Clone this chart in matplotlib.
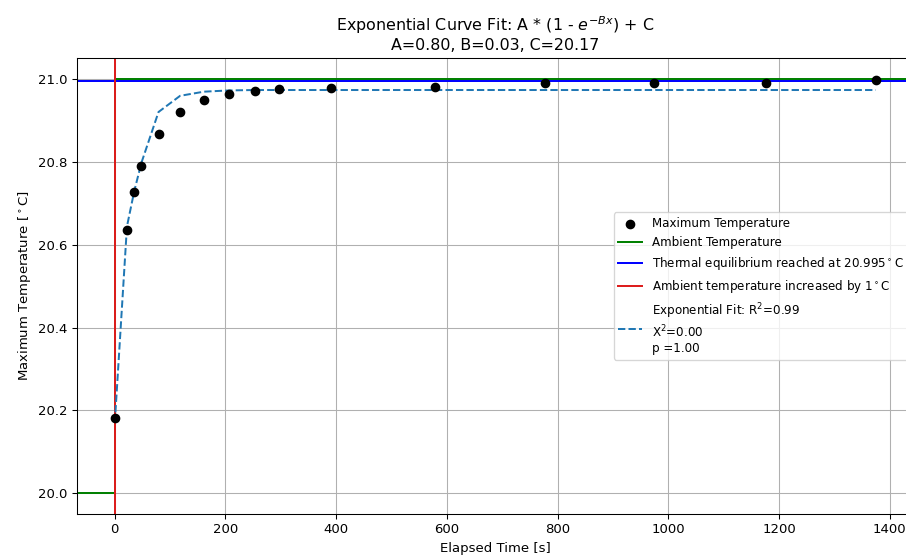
import matplotlib
matplotlib.use('Agg')
import matplotlib.pyplot as plt

# Datos
tiempo = [0, 22, 35, 48, 79, 118, 161, 206, 253, 297, 391, 579, 777, 975, 1177, 1375]
temp_max = [20.181, 20.636, 20.728, 20.790, 20.866, 20.919, 20.949, 20.964,
            20.970, 20.975, 20.979, 20.981, 20.990, 20.991, 20.991, 20.996]
temp_ajuste = [20.17, 20.644, 20.728, 20.797, 20.920, 20.959, 20.969, 20.972,
               20.973, 20.973, 20.973, 20.973, 20.973, 20.973, 20.973, 20.973]

T_AMB_INI = 20.0
T_AMB_FIN = 21.0
T_EQUILIBRIO = 20.995
A, B, C = 0.80, 0.03, 20.17
R2, CHI2, P = 0.99, 0.00, 1.00

DPI = 95
fig = plt.figure(figsize=(906 / DPI, 556 / DPI), dpi=DPI)
ax = fig.add_axes([0.0847, 0.0755, 0.924, 0.820])

ax.scatter(tiempo, temp_max, color='black', s=40, zorder=3, label='Maximum Temperature')
ax.plot(tiempo, temp_ajuste, alpha=0)  # solo para el autoscale
xl = ax.get_xlim()
ax.lines[-1].remove()

ax.plot([xl[0], 0, 0, xl[1]], [T_AMB_INI, T_AMB_INI, T_AMB_FIN, T_AMB_FIN],
        color='green', label='Ambient Temperature')
ax.axhline(T_EQUILIBRIO, color='blue',
           label=f'Thermal equilibrium reached at {T_EQUILIBRIO}$^\\circ$C')
ax.axvline(0, color='#dd1c1c', label='Ambient temperature increased by 1$^\\circ$C')
ax.plot(tiempo, temp_ajuste, '--', color='tab:blue',
        label=f'Exponential Fit: R$^2$={R2:.2f}\nX$^2$={CHI2:.2f}\np ={P:.2f}')
ax.set_xlim(xl)

ax.set_title('Exponential Curve Fit: A * (1 - $e^{-Bx}$) + C\n'
             f'A={A:.2f}, B={B:.2f}, C={C:.2f}')
ax.set_xlabel('Elapsed Time [s]')
ax.set_ylabel('Maximum Temperature [$^\\circ$C]')
ax.grid(True)
ax.legend(loc='center right', fontsize=9)

fig.savefig('out.png', dpi=DPI)
